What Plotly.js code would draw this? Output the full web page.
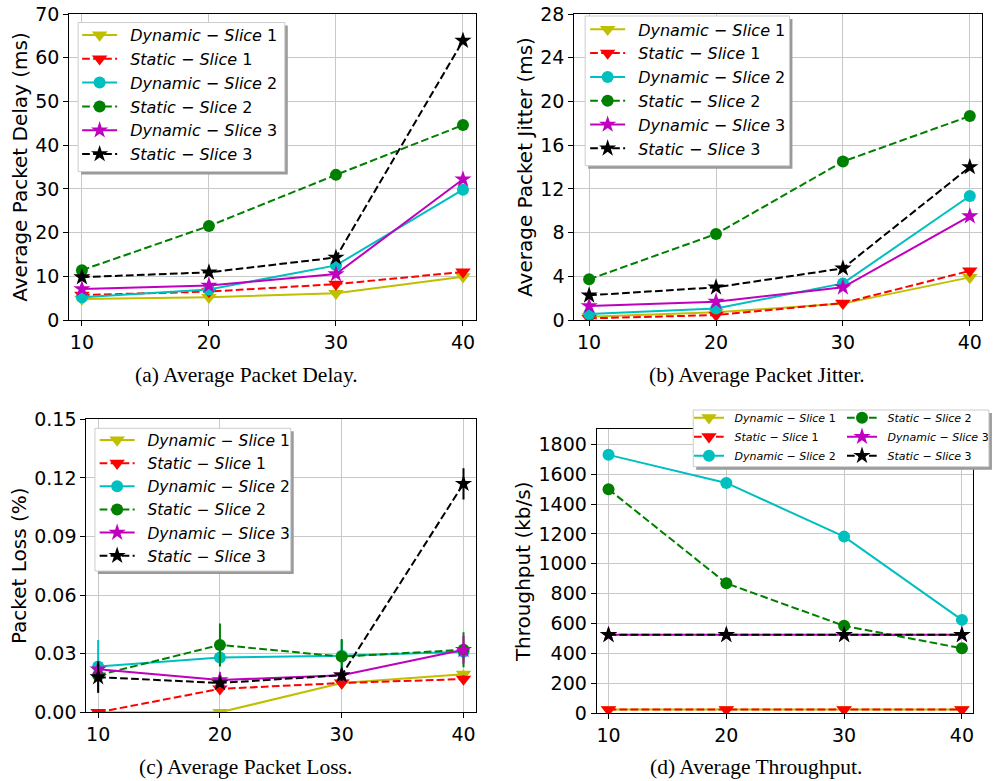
<!DOCTYPE html>
<html><head><meta charset="utf-8">
<script src="https://cdn.plot.ly/plotly-3.0.1.min.js"></script>
<style>html,body{margin:0;padding:0;background:#fff}</style>
</head><body><div id="chart" style="width:994px;height:781px"></div>
<script>
// ---- data ----
const users = [10, 20, 30, 40];
const seriesLabels = ['<i>Dynamic − Slice</i> 1', '<i>Static − Slice</i> 1', '<i>Dynamic − Slice</i> 2',
                      '<i>Static − Slice</i> 2', '<i>Dynamic − Slice</i> 3', '<i>Static − Slice</i> 3'];
const captions = ['(a) Average Packet Delay.', '(b) Average Packet Jitter.', '(c) Average Packet Loss.', '(d) Average Throughput.'];
const yTitles = ['Average Packet Delay (ms)', 'Average Packet Jitter (ms)', 'Packet Loss (%)', 'Throughput (kb/s)'];

const delayDynS1 = [4.8, 5.2, 6.1, 9.9];
const delayStaS1 = [5.7, 6.5, 8.2, 11.0];
const delayDynS2 = [5.2, 7.0, 12.5, 29.8];
const delayStaS2 = [11.4, 21.5, 33.2, 44.6];
const delayDynS3 = [7.1, 7.9, 10.5, 32.2];
const delayStaS3 = [9.8, 10.9, 14.3, 63.9];

const jitDynS1 = [0.3, 0.7, 1.5, 3.9];
const jitStaS1 = [0.15, 0.45, 1.55, 4.5];
const jitDynS2 = [0.55, 1.05, 3.35, 11.35];
const jitStaS2 = [3.72, 7.87, 14.5, 18.66];
const jitDynS3 = [1.28, 1.68, 2.99, 9.5];
const jitStaS3 = [2.26, 2.99, 4.73, 14.0];

const lossDynS1 = [0.0, 0.0, 0.015, 0.0195];
const lossStaS1 = [0.0, 0.012, 0.015, 0.017];
const lossDynS2 = [0.0235, 0.028, 0.029, 0.031];
const lossStaS2 = [0.019, 0.0345, 0.0285, 0.032];
const lossDynS3 = [0.022, 0.0165, 0.019, 0.032];
const lossStaS3 = [0.018, 0.015, 0.019, 0.117];

const lossErrDynS1 = [0.0, 0.0, 0.002, 0.002];
const lossErrStaS1 = [0.0, 0.002, 0.002, 0.002];
const lossErrDynS2 = [0.0135, 0.004, 0.008, 0.004];
const lossErrStaS2 = [0.003, 0.011, 0.009, 0.009];
const lossErrDynS3 = [0.004, 0.004, 0.003, 0.007];
const lossErrStaS3 = [0.008, 0.002, 0.003, 0.008];

const thrDynS1 = [25, 25, 25, 25];
const thrStaS1 = [25, 25, 25, 25];
const thrDynS2 = [1729, 1541, 1182, 625];
const thrStaS2 = [1499, 870, 585, 435];
const thrDynS3 = [525, 525, 525, 525];
const thrStaS3 = [525, 525, 525, 525];

// ---- styles ----
const W = 994, H = 781;
const px = v => v / W;
const py = v => 1 - v / H;
const colors = ['#bfbf00', '#ff0000', '#00bfbf', '#008000', '#bf00bf', '#000000'];
const symbols = ['triangle-down', 'triangle-down', 'circle', 'circle', 'star', 'star'];
const msizes = [13.5, 13.5, 12, 12, 13, 13];
const DASH = '7.7px,3.3px';
const dashes = ['solid', DASH, 'solid', DASH, 'solid', DASH];
const SPACER = '\u2002';

const panels = [
  {vals: [delayDynS1, delayStaS1, delayDynS2, delayStaS2, delayDynS3, delayStaS3], xa: 'x', ya: 'y'},
  {vals: [jitDynS1, jitStaS1, jitDynS2, jitStaS2, jitDynS3, jitStaS3], xa: 'x2', ya: 'y2'},
  {vals: [lossDynS1, lossStaS1, lossDynS2, lossStaS2, lossDynS3, lossStaS3], xa: 'x3', ya: 'y3',
   errs: [lossErrDynS1, lossErrStaS1, lossErrDynS2, lossErrStaS2, lossErrDynS3, lossErrStaS3]},
  {vals: [thrDynS1, thrStaS1, thrDynS2, thrStaS2, thrDynS3, thrStaS3], xa: 'x4', ya: 'y4'}
];

const traces = [];
panels.forEach((p, pi) => {
  p.vals.forEach((v, si) => {
    let leg = ['legend', 'legend2', 'legend3'][pi];
    if (pi === 3) leg = si < 3 ? 'legend4' : 'legend5';
    const t = {
      type: 'scatter', mode: 'lines+markers', x: users, y: v,
      xaxis: p.xa, yaxis: p.ya, legend: leg,
      name: SPACER + seriesLabels[si],
      line: {color: colors[si], width: 2, dash: dashes[si]},
      marker: {color: colors[si], symbol: symbols[si], size: msizes[si], line: {width: 0}},
      hoverinfo: 'skip'
    };
    if (p.errs) {
      t.error_y = {type: 'data', array: p.errs[si], visible: true, color: colors[si], thickness: 2, width: 0};
    }
    traces.push(t);
  });
});

const tickFont = {family: 'DejaVu Sans', size: 19, color: '#000'};
const titleFont = {family: 'DejaVu Sans', size: 20, color: '#000'};
function xaxisDef(domain, range, anchor) {
  return {domain: domain, range: range, anchor: anchor, tickvals: users, ticktext: users.map(String),
    showline: true, mirror: true, linecolor: '#000', linewidth: 1, ticks: 'outside', ticklen: 5,
    tickwidth: 1, tickcolor: '#000', showgrid: true, gridcolor: '#c8c8c8', gridwidth: 1,
    zeroline: false, tickfont: tickFont, automargin: false, fixedrange: true};
}
function yaxisDef(domain, range, anchor, tickvals, fmt, title) {
  return {domain: domain, range: range, anchor: anchor, tickvals: tickvals, tickformat: fmt,
    showline: true, mirror: true, linecolor: '#000', linewidth: 1, ticks: 'outside', ticklen: 5,
    tickwidth: 1, tickcolor: '#000', showgrid: true, gridcolor: '#c8c8c8', gridwidth: 1,
    zeroline: false, tickfont: tickFont, automargin: false, fixedrange: true,
    title: {text: title, font: titleFont, standoff: 2}};
}

const layout = {
  width: W, height: H, margin: {l: 0, r: 0, t: 0, b: 0},
  paper_bgcolor: '#fff', plot_bgcolor: '#fff', showlegend: true,
  xaxis: xaxisDef([px(70), px(481)], [9, 41], 'y'),
  yaxis: yaxisDef([py(320), py(14)], [0, 70], 'x', [0, 10, 20, 30, 40, 50, 60, 70], 'd', yTitles[0]),
  xaxis2: xaxisDef([px(580.7), px(993)], [8.83, 40.96], 'y2'),
  yaxis2: yaxisDef([py(320), py(14)], [0, 28], 'x2', [0, 4, 8, 12, 16, 20, 24, 28], 'd', yTitles[1]),
  xaxis3: xaxisDef([px(87.3), px(481)], [9.03, 41], 'y3'),
  yaxis3: yaxisDef([py(712.3), py(419.3)], [0, 0.15], 'x3', [0, 0.03, 0.06, 0.09, 0.12, 0.15], '.2f', yTitles[2]),
  xaxis4: xaxisDef([px(603.3), px(984)], [8.99, 40.95], 'y4'),
  yaxis4: yaxisDef([py(713.3), py(429.3)], [0, 1900], 'x4', [0, 200, 400, 600, 800, 1000, 1200, 1400, 1600, 1800], 'd', yTitles[3]),
  legend:  {x: px(78), y: py(18.1), xanchor: 'left', yanchor: 'top', bgcolor: 'rgba(0,0,0,0)', borderwidth: 0,
            itemwidth: 35, font: {family: 'DejaVu Sans', size: 16, color: '#000'}},
  legend2: {x: px(591.7), y: py(12.4), xanchor: 'left', yanchor: 'top', bgcolor: 'rgba(0,0,0,0)', borderwidth: 0,
            itemwidth: 35, font: {family: 'DejaVu Sans', size: 16, color: '#000'}},
  legend3: {x: px(95.7), y: py(423.4), xanchor: 'left', yanchor: 'top', bgcolor: 'rgba(0,0,0,0)', borderwidth: 0,
            itemwidth: 35, font: {family: 'DejaVu Sans', size: 15.5, color: '#000'}},
  legend4: {x: px(696.7), y: py(403.2), xanchor: 'left', yanchor: 'top', bgcolor: 'rgba(0,0,0,0)', borderwidth: 0,
            itemwidth: 30, font: {family: 'DejaVu Sans', size: 11, color: '#000'}},
  legend5: {x: px(851.7), y: py(403.2), xanchor: 'left', yanchor: 'top', bgcolor: 'rgba(0,0,0,0)', borderwidth: 0,
            itemwidth: 30, font: {family: 'DejaVu Sans', size: 11, color: '#000'}},
  shapes: [],
  annotations: []
};

// legend frames (white box + grey drop shadow)
const boxes = [[79, 22.5, 288, 171.5], [591.7, 16, 798.3, 165.7], [96, 428.3, 294, 571], [701, 410, 1000, 466.7]];
boxes.forEach(b => {
  layout.shapes.push({type: 'rect', xref: 'paper', yref: 'paper', x0: px(b[0] + 3), x1: px(b[2] + 3),
    y0: py(b[3] + 3), y1: py(b[1] + 3), fillcolor: '#9a9a9a', line: {width: 0}, layer: 'above'});
  layout.shapes.push({type: 'rect', xref: 'paper', yref: 'paper', x0: px(b[0]), x1: px(b[2]),
    y0: py(b[3]), y1: py(b[1]), fillcolor: '#ffffff', line: {color: '#cccccc', width: 1}, layer: 'above'});
});

// sub-figure captions
const capPos = [[249.7, 375], [765, 375], [248, 767], [764, 767]];
captions.forEach((c, i) => {
  layout.annotations.push({text: c, xref: 'paper', yref: 'paper', x: px(capPos[i][0]), y: py(capPos[i][1]),
    xanchor: 'center', yanchor: 'middle', showarrow: false,
    font: {family: 'Liberation Serif', size: 21.5, color: '#000'}});
});

Plotly.newPlot('chart', traces, layout, {displayModeBar: false, staticPlot: true});
</script></body></html>
